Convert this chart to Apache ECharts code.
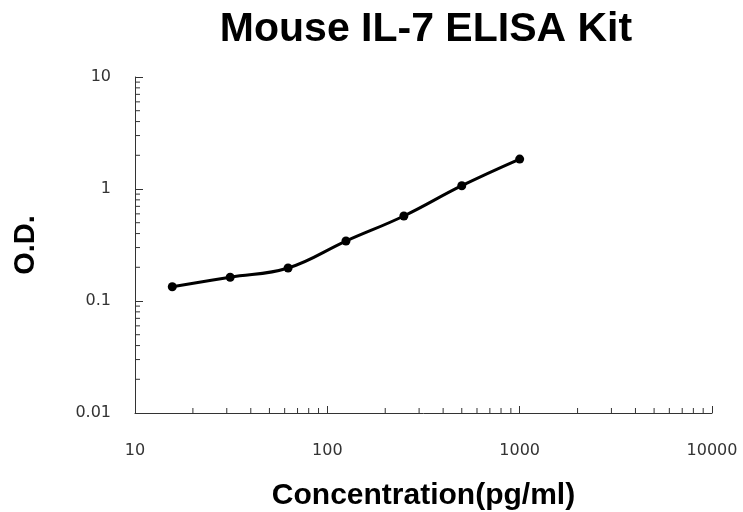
<!DOCTYPE html>
<html>
<head>
<meta charset="utf-8">
<script src="https://cdn.jsdelivr.net/npm/echarts@6/dist/echarts.min.js"></script>
<style>
  html, body { margin: 0; padding: 0; background: #fff; }
  #chart { width: 743px; height: 512px; }
</style>
</head>
<body>
<div id="chart"></div>
<script>
// 标准曲线数据
var concentrations = [15.625, 31.25, 62.5, 125, 250, 500, 1000]
var odValues = [0.134, 0.163, 0.197, 0.343, 0.574, 1.07, 1.85]
var xMinorTicks = [20, 30, 40, 50, 60, 70, 80, 90, 200, 300, 400, 500, 600, 700, 800, 900, 2000, 3000, 4000, 5000, 6000, 7000, 8000, 9000]
var yMinorTicks = [0.02, 0.03, 0.04, 0.05, 0.06, 0.07, 0.08, 0.09, 0.2, 0.3, 0.4, 0.5, 0.6, 0.7, 0.8, 0.9, 2, 3, 4, 5, 6, 7, 8, 9]

var xMin = 10, xMax = 10000
var yMin = 0.01, yMax = 10

/** 对数坐标的次刻度, 用custom系列画 */
function minorTickSeries(values, isX) {
    let data = []
    values.forEach(v => {
        data.push(isX ? [v, yMin] : [xMin, v])
    })
    return {
        type: 'custom',
        silent: true,
        clip: false,
        data: data,
        renderItem: function (params, api) {
            let p = api.coord([api.value(0), api.value(1)])
            let shape = isX
                ? { x1: p[0], y1: p[1], x2: p[0], y2: p[1] - 5 }
                : { x1: p[0], y1: p[1], x2: p[0] + 5, y2: p[1] }
            return {
                type: 'line',
                shape: shape,
                style: { stroke: '#333', lineWidth: 1 }
            }
        }
    }
}

var myChart = echarts.init(document.getElementById('chart'))
var tickFont = { fontFamily: 'DejaVu Sans', fontSize: 16, color: '#333' }
var nameFont = { fontFamily: 'Liberation Sans', fontWeight: 'bold', color: '#000' }

var option = {
    animation: false,
    title: {
        text: 'Mouse IL-7 ELISA Kit',
        left: 421,
        textAlign: 'center',
        top: 4,
        textStyle: Object.assign({ fontSize: 41 }, nameFont)
    },
    grid: {
        left: 135,
        right: 31,
        top: 77,
        bottom: 99,
        outerBoundsMode: 'none',
        containLabel: false
    },
    xAxis: {
        type: 'log',
        logBase: 10,
        min: xMin,
        max: xMax,
        name: 'Concentration(pg/ml)',
        nameLocation: 'middle',
        nameGap: 68,
        nameTextStyle: Object.assign({ fontSize: 30 }, nameFont),
        splitLine: { show: false },
        axisLine: { lineStyle: { color: '#333', width: 1 } },
        axisTick: { inside: true, length: 7, lineStyle: { color: '#333' } },
        axisLabel: Object.assign({ margin: 30, formatter: v => String(v) }, tickFont)
    },
    yAxis: {
        type: 'log',
        logBase: 10,
        min: yMin,
        max: yMax,
        name: 'O.D.',
        nameLocation: 'middle',
        nameGap: 95,
        nameTextStyle: Object.assign({ fontSize: 29 }, nameFont),
        splitLine: { show: false },
        axisLine: { show: true, lineStyle: { color: '#333', width: 1 } },
        axisTick: { show: true, inside: true, length: 8, lineStyle: { color: '#333' } },
        axisLabel: Object.assign({ margin: 24, formatter: v => String(+v.toPrecision(3)) }, tickFont)
    },
    series: [
        {
            type: 'line',
            data: concentrations.map((c, i) => [c, odValues[i]]),
            smooth: 0.4,
            symbol: 'circle',
            symbolSize: 9,
            itemStyle: { color: '#000' },
            lineStyle: { color: '#000', width: 3 },
            z: 5
        },
        minorTickSeries(xMinorTicks, true),
        minorTickSeries(yMinorTicks, false)
    ]
}

myChart.setOption(option)
</script>
</body>
</html>
